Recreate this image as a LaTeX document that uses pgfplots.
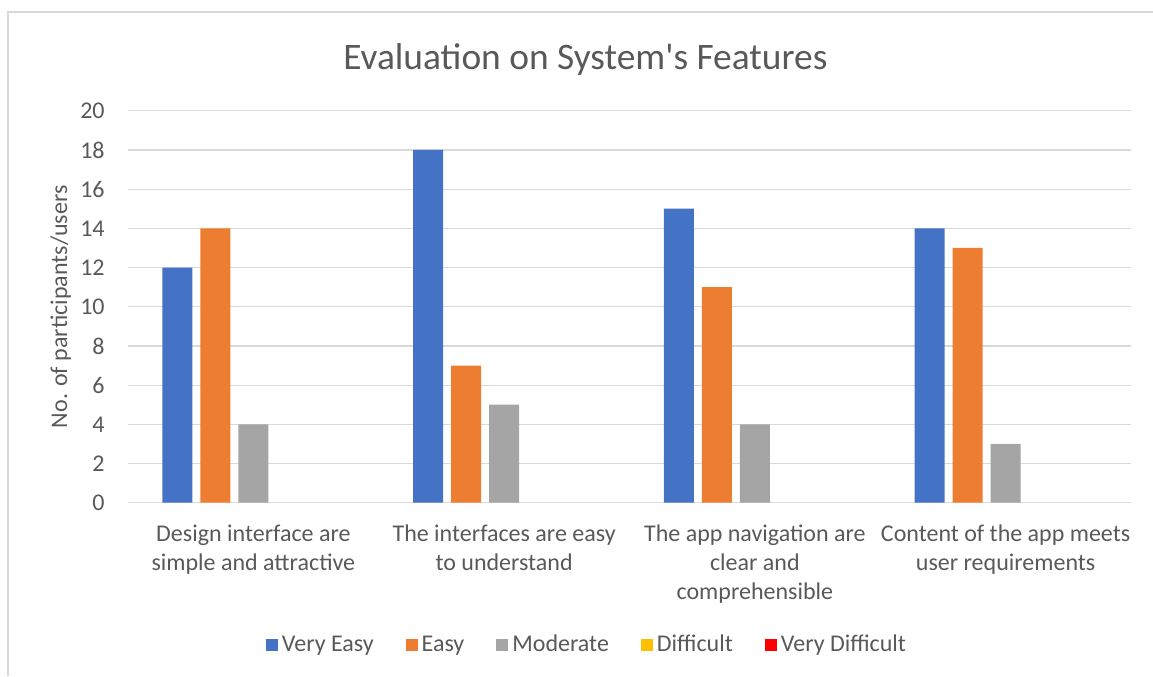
\documentclass[border=0pt]{standalone}
\usepackage{fontspec}
\setmainfont{Carlito}
\usepackage{pgfplots}
\pgfplotsset{compat=1.18}

\definecolor{veryeasy}{HTML}{4472C4}
\definecolor{easy}{HTML}{ED7D31}
\definecolor{moderate}{HTML}{A5A5A5}
\definecolor{difficult}{HTML}{FFC000}
\definecolor{verydifficult}{HTML}{FF0000}
\definecolor{txt}{HTML}{595959}
\definecolor{grd}{HTML}{D9D9D9}

\begin{document}
\begin{tikzpicture}
\useasboundingbox (0,0) rectangle (576.5pt,338pt);
\draw[grd, line width=0.6pt] (4pt,0pt) -- (4pt,332pt) -- (576.5pt,332pt);
\begin{axis}[
    at={(64pt,86.65pt)}, anchor=south west,
    scale only axis, width=501.5pt, height=196pt,
    ybar=4pt, bar width=15pt,
    xmin=-0.5, xmax=3.5, ymin=0, ymax=20,
    xtick={0,1,2,3},
    xticklabels={{Design interface are\\simple and attractive},
                 {The interfaces are easy\\to understand},
                 {The app navigation are\\clear and\\comprehensible},
                 {Content of the app meets\\user requirements}},
    ytick={0,2,...,20},
    ymajorgrids, grid style={grd, line width=0.6pt},
    axis line style={draw=none},
    major tick length=0pt,
    /pgf/number format/assume math mode=true,
    every tick label/.append style={font=\fontsize{12}{14.5}\selectfont, text=txt},
    xticklabel style={anchor=north, inner sep=0pt, yshift=-11pt, align=center},
    yticklabel style={anchor=east, inner sep=0pt, xshift=-11.5pt},
    title={Evaluation on System\textquotesingle s Features},
    title style={at={(axis description cs:0.456,1.075)}, anchor=base,
                 font=\fontsize{18.7}{22}\selectfont, text=txt},
    ylabel={No. of participants/users},
    ylabel style={at={(axis description cs:-0.0608,0.5)}, anchor=base,
                  font=\fontsize{12}{14.5}\selectfont, text=txt},
    legend columns=-1,
    legend style={at={(axis description cs:0.4586,-0.363)}, anchor=center,
                  draw=none, font=\fontsize{12}{14.5}\selectfont, text=txt,
                  nodes={inner xsep=2pt},
                  /tikz/every even column/.append style={column sep=14pt}},
    legend image code/.code={\fill[#1] (0pt,-3pt) rectangle (6pt,3pt);},
]
\addplot[fill=veryeasy, draw=none] coordinates {(0,12) (1,18) (2,15) (3,14)};
\addplot[fill=easy, draw=none] coordinates {(0,14) (1,7) (2,11) (3,13)};
\addplot[fill=moderate, draw=none] coordinates {(0,4) (1,5) (2,4) (3,3)};
% zero-valued series: bars invisible, legend swatch kept
\addplot[fill=difficult, draw=none, fill opacity=0,
    legend image code/.code={\fill[difficult, fill opacity=1] (0pt,-3pt) rectangle (6pt,3pt);}]
    coordinates {(0,0) (1,0) (2,0) (3,0)};
\addplot[fill=verydifficult, draw=none, fill opacity=0,
    legend image code/.code={\fill[verydifficult, fill opacity=1] (0pt,-3pt) rectangle (6pt,3pt);}]
    coordinates {(0,0) (1,0) (2,0) (3,0)};
\legend{Very Easy, Easy, Moderate, Difficult, Very Difficult}
\end{axis}
\end{tikzpicture}
\end{document}
